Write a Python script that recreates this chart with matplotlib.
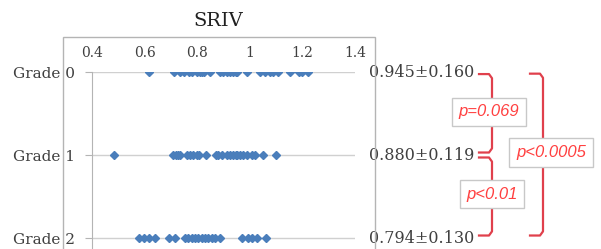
import numpy as np
import matplotlib
matplotlib.use("Agg")
import matplotlib.pyplot as plt
from matplotlib.patches import Rectangle
from matplotlib.transforms import blended_transform_factory

# SRIV values per grade
grade0 = [0.617, 0.712, 0.735, 0.750, 0.769, 0.780, 0.799, 0.811, 0.818, 0.826,
          0.849, 0.887, 0.898, 0.913, 0.925, 0.936, 0.948, 0.951, 0.989, 1.039,
          1.058, 1.077, 1.088, 1.107, 1.153, 1.187, 1.198, 1.221]
grade1 = [0.484, 0.708, 0.719, 0.727, 0.735, 0.761, 0.773, 0.784, 0.799, 0.807,
          0.833, 0.871, 0.879, 0.894, 0.913, 0.925, 0.936, 0.948, 0.951, 0.963,
          0.974, 0.989, 1.008, 1.020, 1.050, 1.100]
grade2 = [0.579, 0.598, 0.617, 0.640, 0.693, 0.716, 0.754, 0.765, 0.780, 0.792,
          0.803, 0.818, 0.830, 0.841, 0.856, 0.868, 0.887, 0.970, 0.993, 1.008,
          1.027, 1.062]
groups = [grade0, grade1, grade2]
grade_labels = ["Grade 0", "Grade 1", "Grade 2"]
summary = ["0.945\u00b10.160", "0.880\u00b10.119", "0.794\u00b10.130"]
xticks = [0.4, 0.6, 0.8, 1.0, 1.2, 1.4]
xtick_labels = ["0.4", "0.6", "0.8", "1", "1.2", "1.4"]
# (from grade, to grade, label)
comparisons = [(0, 1, "p=0.069"), (1, 2, "p<0.01"), (0, 2, "p<0.0005")]

W, H = 601, 249
fig = plt.figure(figsize=(W / 100, H / 100), dpi=100)
serif = "DejaVu Serif"

def fx(px):
    return px / W

def fy(py):
    return 1 - py / H

# outer chart frame (Excel style)
fig.patches.append(Rectangle((fx(63), fy(260)), fx(375) - fx(63), fy(37) - fy(260),
                             transform=fig.transFigure, fill=False,
                             edgecolor="#b4b4b4", linewidth=1.0))

ax = fig.add_axes([fx(92), fy(260), fx(355) - fx(92), fy(72) - fy(260)])
ax.set_xlim(0.4, 1.4)
ax.set_ylim(2.265, 0)
for s in ["top", "right", "bottom"]:
    ax.spines[s].set_visible(False)
ax.spines["left"].set_color("#b4b4b4")
ax.patch.set_alpha(0)

for i, vals in enumerate(groups):
    ax.axhline(i, color="#d0d0d0", linewidth=1.0, zorder=1)
    ax.plot(vals, [i] * len(vals), linestyle="none", marker="D", markersize=4.3,
            color="#4a7ebb", zorder=3)

ax.xaxis.tick_top()
ax.set_xticks(xticks)
ax.set_xticklabels(xtick_labels, fontfamily=serif, fontsize=10, color="#404040")
ax.tick_params(axis="x", length=0, pad=9)
ax.set_yticks(range(3))
ax.set_yticklabels(grade_labels, fontfamily=serif, fontsize=11, color="#404040")
ax.tick_params(axis="y", length=5, color="#b4b4b4", pad=7)

fig.text(fx(218), fy(21), "SRIV", ha="center", va="center", fontfamily=serif,
         fontsize=14, color="#202020")

tr = blended_transform_factory(fig.transFigure, ax.transData)
for i, s in enumerate(summary):
    ax.text(fx(369), i, s, transform=tr, ha="left", va="center", fontfamily=serif,
            fontsize=11.5, color="#404040", clip_on=False)

red = "#e0404c"
bx = {(0, 1): (479, 492), (1, 2): (479, 492), (0, 2): (530, 543)}
gap = {(0, 1): (0.025, 0.03), (1, 2): (0.03, 0.03), (0, 2): (0.02, 0.03)}
lab_pos = {(0, 1): (489, 0.48), (1, 2): (492, 1.47), (0, 2): (551, 0.97)}
for a, b, lab in comparisons:
    x0, x1 = bx[(a, b)]
    top = a + gap[(a, b)][0]
    bot = b - gap[(a, b)][1]
    xs = [fx(x0), fx(x1 - 3), fx(x1), fx(x1), fx(x1 - 3), fx(x0)]
    ys = [top, top, top + 0.05, bot - 0.05, bot, bot]
    ax.plot(xs, ys, transform=tr, color=red, linewidth=1.6, clip_on=False,
            solid_joinstyle="round")
    lx, ly = lab_pos[(a, b)]
    ax.text(fx(lx), ly, lab, transform=tr, ha="center", va="center",
            fontfamily="Liberation Sans", fontstyle="italic", fontsize=12,
            color="#ff4040", clip_on=False, zorder=5,
            bbox=dict(boxstyle="square,pad=0.4", facecolor="white",
                      edgecolor="#c8c8c8", linewidth=1.0))

fig.savefig("out.png", dpi=100)
